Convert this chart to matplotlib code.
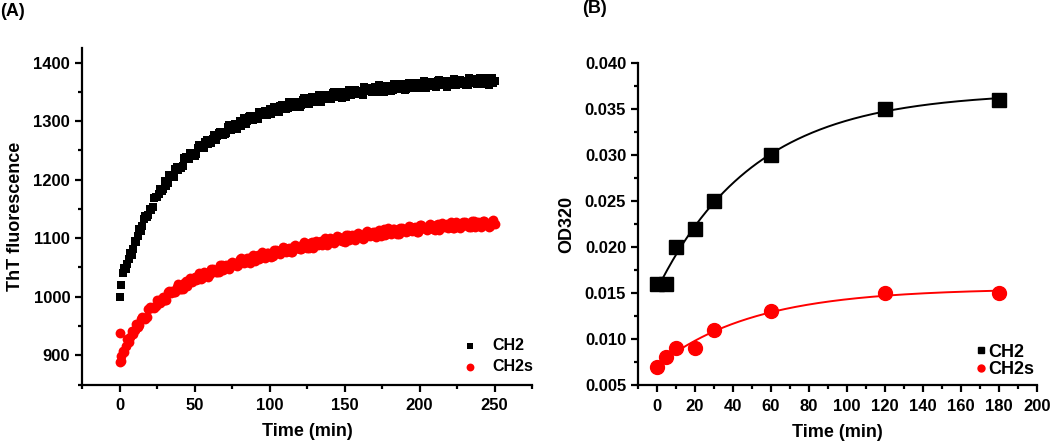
import numpy as np
import matplotlib
matplotlib.use("Agg")
import matplotlib.pyplot as plt
from matplotlib.ticker import MultipleLocator, FormatStrFormatter

plt.rcParams['font.family'] = ['Liberation Sans', 'DejaVu Sans']
plt.rcParams['font.weight'] = 'bold'

# ---------------- Panel A data (ThT fluorescence) ----------------
# readings at even minutes
time_a_even = np.arange(0, 251, 2)
ch2_a_even = [1000,
              1040, 1047, 1065, 1072, 1096, 1104, 1112, 1133, 1136, 1150,
              1153, 1171, 1176, 1180, 1197, 1195, 1206, 1205, 1221, 1222,
              1224, 1238, 1235, 1244, 1241, 1255, 1255, 1255, 1268, 1263,
              1270, 1267, 1280, 1279, 1278, 1290, 1285, 1292, 1287, 1300,
              1298, 1296, 1307, 1302, 1308, 1303, 1315, 1313, 1311, 1321,
              1315, 1321, 1315, 1327, 1324, 1322, 1332, 1325, 1331, 1325,
              1336, 1333, 1330, 1341, 1334, 1339, 1333, 1344, 1341, 1338,
              1348, 1341, 1346, 1339, 1350, 1347, 1344, 1354, 1346, 1351,
              1345, 1356, 1352, 1349, 1359, 1351, 1356, 1350, 1360, 1357,
              1353, 1363, 1355, 1360, 1353, 1364, 1360, 1357, 1366, 1359,
              1363, 1356, 1367, 1363, 1360, 1369, 1361, 1366, 1359, 1369,
              1366, 1362, 1371, 1363, 1368, 1361, 1371, 1367, 1364, 1373,
              1365, 1369, 1362, 1373, 1369]
ch2s_a_even = [888,
               907, 916, 923, 941, 943, 949, 962, 963, 966, 982,
               982, 985, 995, 993, 994, 1008, 1007, 1008, 1017, 1014,
               1014, 1027, 1025, 1026, 1034, 1031, 1030, 1042, 1039, 1039,
               1047, 1043, 1042, 1054, 1051, 1050, 1058, 1054, 1052, 1064,
               1060, 1060, 1067, 1063, 1061, 1072, 1069, 1068, 1075, 1071,
               1069, 1080, 1076, 1076, 1083, 1078, 1076, 1087, 1083, 1082,
               1090, 1085, 1083, 1094, 1090, 1089, 1096, 1091, 1089, 1100,
               1096, 1095, 1102, 1096, 1094, 1105, 1101, 1100, 1107, 1102,
               1099, 1110, 1106, 1105, 1111, 1106, 1104, 1115, 1110, 1109,
               1116, 1110, 1108, 1118, 1114, 1113, 1119, 1114, 1111, 1122,
               1117, 1116, 1122, 1117, 1114, 1125, 1120, 1119, 1125, 1119,
               1117, 1127, 1122, 1121, 1127, 1121, 1119, 1129, 1124, 1122,
               1129, 1123, 1120, 1130, 1125]
# readings at odd minutes
time_a_odd = np.arange(1, 250, 2)
ch2_a_odd = [1020, 1049, 1056, 1075, 1081, 1093, 1116, 1121, 1138, 1140,
             1149, 1169, 1171, 1184, 1184, 1190, 1208, 1207, 1218, 1216,
             1220, 1237, 1235, 1245, 1241, 1244, 1259, 1256, 1265, 1261,
             1263, 1277, 1274, 1282, 1277, 1279, 1293, 1289, 1296, 1291,
             1292, 1305, 1300, 1308, 1302, 1303, 1316, 1311, 1318, 1312,
             1312, 1325, 1320, 1326, 1320, 1320, 1333, 1327, 1333, 1327,
             1327, 1339, 1333, 1339, 1333, 1333, 1345, 1339, 1345, 1338,
             1338, 1350, 1344, 1349, 1342, 1342, 1354, 1348, 1353, 1346,
             1346, 1358, 1351, 1357, 1350, 1349, 1361, 1355, 1360, 1353,
             1352, 1364, 1357, 1363, 1355, 1355, 1366, 1360, 1365, 1358,
             1357, 1368, 1362, 1367, 1360, 1359, 1370, 1364, 1369, 1361,
             1361, 1372, 1365, 1370, 1363, 1362, 1373, 1366, 1372, 1364,
             1363, 1374, 1367, 1373, 1365]
ch2s_a_odd = [899, 905, 928, 932, 936, 953, 951, 965, 962, 979,
              980, 981, 995, 989, 1000, 995, 1010, 1009, 1008, 1021,
              1014, 1024, 1018, 1032, 1029, 1028, 1040, 1032, 1041, 1034,
              1047, 1044, 1042, 1054, 1046, 1055, 1047, 1060, 1057, 1054,
              1066, 1057, 1066, 1058, 1071, 1067, 1064, 1076, 1067, 1075,
              1068, 1080, 1076, 1073, 1085, 1076, 1084, 1076, 1088, 1084,
              1081, 1093, 1084, 1092, 1084, 1096, 1092, 1089, 1100, 1091,
              1099, 1091, 1103, 1098, 1095, 1106, 1097, 1105, 1097, 1109,
              1104, 1101, 1112, 1103, 1110, 1102, 1114, 1110, 1106, 1117,
              1108, 1115, 1107, 1118, 1114, 1111, 1121, 1112, 1119, 1111,
              1122, 1118, 1114, 1125, 1115, 1123, 1114, 1126, 1121, 1117,
              1128, 1118, 1125, 1117, 1128, 1123, 1120, 1130, 1120, 1127,
              1119, 1130, 1125, 1121, 1131]
# isolated first readings
ch2s_extra_t = [0, 1]
ch2s_extra_v = [938, 891]

# ---------------- Panel B data (OD320) ----------------
time_b = [0, 5, 10, 20, 30, 60, 120, 180]
ch2_b = [0.016, 0.016, 0.020, 0.022, 0.025, 0.030, 0.035, 0.036]
ch2s_b = [0.007, 0.008, 0.009, 0.009, 0.011, 0.013, 0.015, 0.015]


def exp_fit(x, y):
    x = np.asarray(x, float)
    y = np.asarray(y, float)
    best = None
    for tau in np.linspace(5, 200, 1951):
        A = np.column_stack([np.ones_like(x), np.exp(-x / tau)])
        coef, *_ = np.linalg.lstsq(A, y, rcond=None)
        err = np.sum((A @ coef - y) ** 2)
        if best is None or err < best[0]:
            best = (err, coef, tau)
    _, (a, b), tau = best
    return lambda t: a + b * np.exp(-np.asarray(t) / tau)


def pair(t, v):
    m = min(len(t), len(v))
    return np.asarray(t)[:m], np.asarray(v)[:m]


fig = plt.figure(figsize=(10.5, 4.43), dpi=100)

# ---------------- Panel A ----------------
axA = fig.add_axes([0.0781, 0.132, 0.4286, 0.7596])
t_ch2 = np.concatenate([pair(time_a_even, ch2_a_even)[0], pair(time_a_odd, ch2_a_odd)[0]])
v_ch2 = np.concatenate([pair(time_a_even, ch2_a_even)[1], pair(time_a_odd, ch2_a_odd)[1]])
t_ch2s = np.concatenate([pair(time_a_even, ch2s_a_even)[0], pair(time_a_odd, ch2s_a_odd)[0], ch2s_extra_t])
v_ch2s = np.concatenate([pair(time_a_even, ch2s_a_even)[1], pair(time_a_odd, ch2s_a_odd)[1], ch2s_extra_v])
axA.scatter(t_ch2, v_ch2, marker='s', s=38, color='black', linewidths=0, label='CH2', zorder=3)
axA.scatter(t_ch2s, v_ch2s, marker='o', s=50, color='#ff0000', linewidths=0, label='CH2s', zorder=3)
axA.set_xlim(-25, 275)
axA.set_ylim(850, 1425)
axA.xaxis.set_major_locator(MultipleLocator(50))
axA.xaxis.set_minor_locator(MultipleLocator(25))
axA.yaxis.set_major_locator(MultipleLocator(100))
axA.yaxis.set_minor_locator(MultipleLocator(50))
axA.set_xlabel('Time (min)', fontsize=13, fontweight='bold', labelpad=7)
axA.set_ylabel('ThT fluorescence', fontsize=13, fontweight='bold', labelpad=7)
legA = axA.legend(loc='center left', bbox_to_anchor=(0.847, 0.085), frameon=False,
                  fontsize=11.5, handlelength=0.9, handletextpad=0.9, labelspacing=0.4,
                  borderpad=0, borderaxespad=0, markerscale=0.8)

# ---------------- Panel B ----------------
axB = fig.add_axes([0.6076, 0.131, 0.380, 0.7269])
f1 = exp_fit(time_b, ch2_b)
f2 = exp_fit(time_b, ch2s_b)
tt1 = np.linspace(3, 180, 300)
tt2 = np.linspace(0, 180, 300)
axB.plot(tt1, f1(tt1), color='black', lw=1.4, zorder=2)
axB.plot(tt2, f2(tt2), color='#ff0000', lw=1.4, zorder=2)
axB.plot(time_b, ch2_b, linestyle='none', marker='s', ms=9.5, color='black', label='CH2', zorder=3)
axB.plot(time_b, ch2s_b, linestyle='none', marker='o', ms=10, color='#ff0000', label='CH2s', zorder=3)
axB.set_xlim(-10, 200)
axB.set_ylim(0.005, 0.040)
axB.xaxis.set_major_locator(MultipleLocator(20))
axB.xaxis.set_minor_locator(MultipleLocator(10))
axB.yaxis.set_major_locator(MultipleLocator(0.005))
axB.yaxis.set_minor_locator(MultipleLocator(0.0025))
axB.yaxis.set_major_formatter(FormatStrFormatter('%.3f'))
axB.set_xlabel('Time (min)', fontsize=13, fontweight='bold', labelpad=7)
axB.set_ylabel('OD320', fontsize=13, fontweight='bold', labelpad=7)
legB = axB.legend(loc='center left', bbox_to_anchor=(0.845, 0.0745), frameon=False,
                  fontsize=13, handlelength=0.6, handletextpad=0.15, labelspacing=0.05,
                  borderpad=0, borderaxespad=0, markerscale=0.5)

for ax in (axA, axB):
    for side in ('top', 'right'):
        ax.spines[side].set_visible(False)
    for side in ('left', 'bottom'):
        ax.spines[side].set_linewidth(1.6)
    ax.tick_params(which='major', direction='out', length=5, width=1.6, labelsize=12, pad=3.5)
    ax.tick_params(which='minor', direction='out', length=3, width=1.6)
    ax.tick_params(axis='x', which='major', pad=5)
    for lab in ax.get_xticklabels() + ax.get_yticklabels():
        lab.set_fontweight('bold')
    ax.set_facecolor('white')

fig.text(0.0, 0.975, '(A)', fontsize=13, fontweight='bold', ha='left', va='center')
fig.text(0.554, 0.98, '(B)', fontsize=13, fontweight='bold', ha='left', va='center')

fig.savefig('out.png', dpi=100, facecolor='white')
